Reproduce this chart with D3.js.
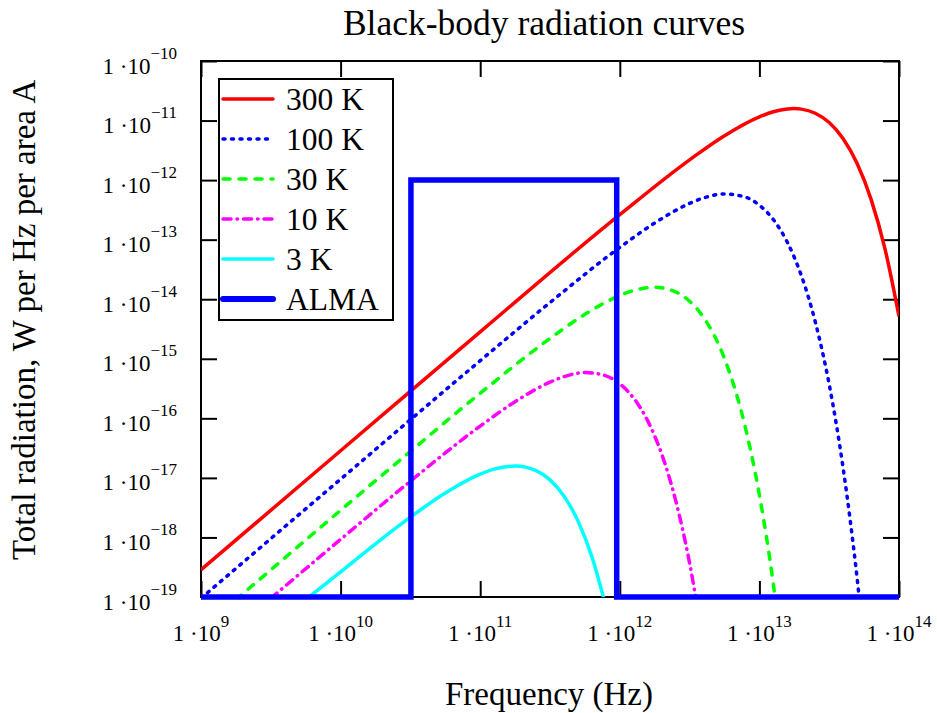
<!DOCTYPE html>
<html>
<head>
<meta charset="utf-8">
<script src="https://cdn.jsdelivr.net/npm/d3@7"></script>
<style>
  body { margin: 0; background: #fff; }
  svg { display: block; }
  text { font-family: "Liberation Serif", "Times New Roman", serif; fill: #000; }
</style>
</head>
<body>
<script>
// tick exponents (labels are 1·10^n)
const xTickExp = [9, 10, 11, 12, 13, 14];
const yTickExp = [-10, -11, -12, -13, -14, -15, -16, -17, -18, -19];

// [frequency Hz, radiation]
const curve300K = [
  [1e9, 2.858e-19], [1e10, 2.858e-17], [1e11, 2.831e-15], [1e12, 2.636e-13],
  [3.162e12, 2.193e-12], [5.623e12, 5.572e-12], [1e13, 1.156e-11], [1.259e13, 1.403e-11],
  [1.585e13, 1.563e-11], [1.778e13, 1.587e-11], [1.995e13, 1.556e-11], [2.512e13, 1.327e-11],
  [3.162e13, 9.247e-12], [3.981e13, 4.943e-12], [5.012e13, 1.897e-12], [6.310e13, 4.742e-13],
  [7.943e13, 6.934e-14], [1e14, 5.164e-15]
];
const curve100K = [
  [1e9, 9.528e-20], [1e10, 9.528e-18], [1e11, 9.290e-16], [3.162e11, 8.810e-15],
  [1e12, 7.413e-14], [1.778e12, 1.905e-13], [3.162e12, 4.055e-13], [3.981e12, 5.012e-13],
  [5.623e12, 5.861e-13], [7.943e12, 5.176e-13], [1e13, 3.793e-13], [1.259e13, 2.173e-13],
  [1.585e13, 9.057e-14], [1.778e13, 5.058e-14], [1.995e13, 2.518e-14], [2.512e13, 4.188e-15],
  [3.162e13, 3.707e-16], [3.981e13, 1.452e-17], [4.467e13, 1.995e-18], [5.012e13, 2.061e-19],
  [5.248e13, 7.586e-20]
];
const curve30K = [
  [1.778e9, 9.036e-20], [3.162e9, 2.858e-19], [1e10, 2.858e-18], [3.162e10, 2.786e-17],
  [1e11, 2.636e-16], [3.162e11, 2.193e-15], [5.623e11, 5.572e-15], [1e12, 1.156e-14],
  [1.259e12, 1.403e-14], [1.778e12, 1.585e-14], [2.512e12, 1.327e-14], [3.162e12, 9.247e-15],
  [3.981e12, 4.943e-15], [5.623e12, 1.007e-15], [7.943e12, 6.934e-17], [1e13, 5.164e-18],
  [1.259e13, 1.637e-19], [1.318e13, 7.244e-20]
];
const curve10K = [
  [3.162e9, 9.528e-20], [1e10, 9.290e-19], [3.162e10, 8.810e-18], [1e11, 7.413e-17],
  [1.778e11, 1.905e-16], [3.162e11, 4.055e-16], [3.981e11, 5.012e-16], [5.623e11, 5.861e-16],
  [7.943e11, 5.176e-16], [1e12, 3.793e-16], [1.259e12, 2.173e-16], [1.585e12, 9.057e-17],
  [1.778e12, 5.058e-17], [1.995e12, 2.518e-17], [2.512e12, 4.188e-18], [3.162e12, 3.707e-19],
  [3.548e12, 8.204e-20]
];
const curve3K = [
  [5.623e9, 9.036e-20], [1e10, 2.636e-19], [1.778e10, 7.816e-19], [3.162e10, 2.193e-18],
  [5.623e10, 5.572e-18], [1e11, 1.156e-17], [1.259e11, 1.403e-17], [1.778e11, 1.585e-17],
  [2.512e11, 1.327e-17], [3.162e11, 9.247e-18], [3.981e11, 4.943e-18], [5.012e11, 1.897e-18],
  [6.310e11, 4.742e-19], [7.943e11, 6.934e-20]
];
const almaBand = [
  [1e9, 1e-19], [3.19e10, 1e-19], [3.19e10, 1e-12], [9.5e11, 1e-12], [9.5e11, 1e-19], [1e14, 1e-19]
];
const legendLabels = ["300 K", "100 K", "30 K", "10 K", "3 K", "ALMA"];

const width = 937, height = 713;
const plot = { left: 201, right: 899, top: 61, bottom: 597 };

const svg = d3.select('body').append('svg')
  .attr('width', width)
  .attr('height', height);

const x = d3.scaleLog().domain([1e9, 1e14]).range([plot.left, plot.right]);
const y = d3.scaleLog().domain([1e-19, 1e-10]).range([plot.bottom, plot.top]);

const series = [
  { data: curve300K, color: '#ff0000', width: 3.5, dash: null },
  { data: curve100K, color: '#0000ff', width: 3.5, dash: '2,6.5' },
  { data: curve30K, color: '#00ff00', width: 3.5, dash: '7,9' },
  { data: curve10K, color: '#ff00ff', width: 3.5, dash: '8,6,0.5,6' },
  { data: curve3K, color: '#00ffff', width: 3.5, dash: null },
  { data: almaBand, color: '#0000ff', width: 5.5, dash: null, alma: true }
];

svg.append('clipPath').attr('id', 'clip')
  .append('rect')
  .attr('x', plot.left).attr('y', plot.top)
  .attr('width', plot.right - plot.left).attr('height', plot.bottom - plot.top);

// axes, ticks pointing inward on all four sides
const xVals = xTickExp.map(e => Math.pow(10, e));
const yVals = yTickExp.map(e => Math.pow(10, e));

function styleAxis(g) {
  g.select('.domain').remove();
  g.selectAll('.tick line').attr('stroke', '#000').attr('stroke-width', 2);
}
svg.append('g').attr('transform', `translate(0,${plot.bottom})`)
  .call(d3.axisBottom(x).tickValues(xVals).tickSize(-16).tickFormat('')).call(styleAxis);
svg.append('g').attr('transform', `translate(0,${plot.top})`)
  .call(d3.axisTop(x).tickValues(xVals).tickSize(-16).tickFormat('')).call(styleAxis);
svg.append('g').attr('transform', `translate(${plot.left},0)`)
  .call(d3.axisLeft(y).tickValues(yVals).tickSize(-16).tickFormat('')).call(styleAxis);
svg.append('g').attr('transform', `translate(${plot.right},0)`)
  .call(d3.axisRight(y).tickValues(yVals).tickSize(-16).tickFormat('')).call(styleAxis);

// frame
svg.append('rect')
  .attr('x', plot.left).attr('y', plot.top)
  .attr('width', plot.right - plot.left).attr('height', plot.bottom - plot.top)
  .attr('fill', 'none').attr('stroke', '#000').attr('stroke-width', 2);

// tick labels 1·10^n
const xLab = svg.append('g').selectAll('text').data(xTickExp).enter().append('text')
  .attr('x', d => x(Math.pow(10, d)))
  .attr('y', 641)
  .attr('text-anchor', 'middle')
  .style('font-size', '23px');
xLab.append('tspan').text('1 \u00b710');
xLab.append('tspan').attr('dy', -14).style('font-size', '17px').text(d => String(d));

const yLab = svg.append('g').selectAll('text').data(yTickExp).enter().append('text')
  .attr('x', 177)
  .attr('y', d => y(Math.pow(10, d)) + 12.5)
  .attr('text-anchor', 'end')
  .style('font-size', '23px');
yLab.append('tspan').text('1 \u00b710');
yLab.append('tspan').attr('dy', -15).style('font-size', '17px').text(d => '\u2212' + Math.abs(d));

// curves
const line = d3.line()
  .x(d => x(d[0]))
  .y(d => y(d[1]))
  .curve(d3.curveMonotoneX);
const straight = d3.line().x(d => x(d[0])).y(d => y(d[1]));

const curvesG = svg.append('g').attr('clip-path', 'url(#clip)');
series.filter(s => !s.alma).forEach(s => {
  curvesG.append('path')
    .attr('d', line(s.data))
    .attr('fill', 'none')
    .attr('stroke', s.color)
    .attr('stroke-width', s.width)
    .attr('stroke-dasharray', s.dash)
    .attr('stroke-linecap', s.dash ? 'round' : 'butt');
});
series.filter(s => s.alma).forEach(s => {
  svg.append('path')
    .attr('d', straight(s.data))
    .attr('fill', 'none')
    .attr('stroke', s.color)
    .attr('stroke-width', s.width)
    .attr('stroke-linejoin', 'miter');
});

// legend
const legend = svg.append('g');
legend.append('rect')
  .attr('x', 219).attr('y', 79).attr('width', 174).attr('height', 241)
  .attr('fill', '#fff').attr('stroke', '#000').attr('stroke-width', 2);
series.forEach((s, i) => {
  const ly = 99 + i * 40;
  legend.append('line')
    .attr('x1', 223).attr('x2', 273).attr('y1', ly).attr('y2', ly)
    .attr('stroke', s.color)
    .attr('stroke-width', s.alma ? 6 : s.width)
    .attr('stroke-dasharray', s.dash)
    .attr('stroke-linecap', 'round');
  legend.append('text')
    .attr('x', 286).attr('y', ly + 10.5)
    .style('font-size', '31.5px')
    .text(legendLabels[i]);
});

// titles
svg.append('text')
  .attr('x', 544).attr('y', 35)
  .attr('text-anchor', 'middle')
  .style('font-size', '35.5px')
  .text('Black-body radiation curves');

svg.append('text')
  .attr('x', 549).attr('y', 705)
  .attr('text-anchor', 'middle')
  .style('font-size', '33px')
  .text('Frequency (Hz)');

svg.append('text')
  .attr('transform', 'translate(35,560) rotate(-90)')
  .attr('text-anchor', 'start')
  .style('font-size', '33px')
  .text('Total radiation, W per Hz per area A');
</script>
</body>
</html>
